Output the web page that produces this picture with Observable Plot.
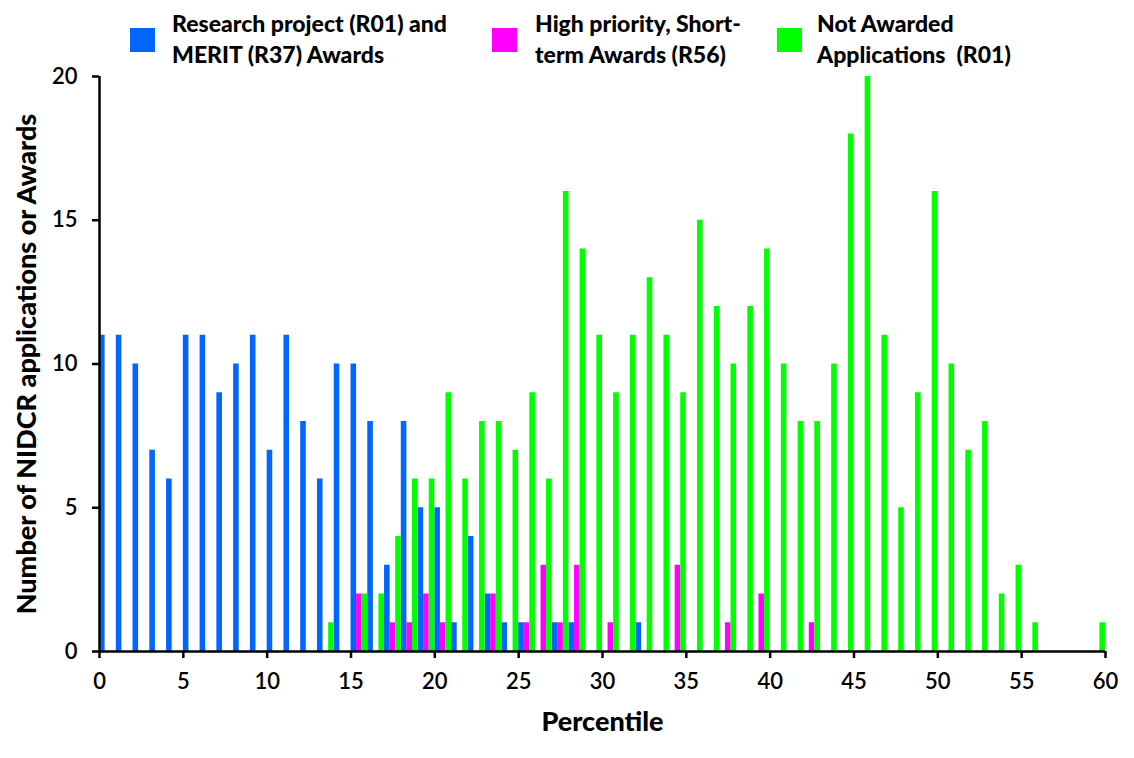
<!DOCTYPE html>
<html>
<head>
<meta charset="utf-8">
<script src="https://cdn.jsdelivr.net/npm/d3@7"></script>
<script src="https://cdn.jsdelivr.net/npm/@observablehq/plot@0.6"></script>
<style>
  html, body { margin: 0; padding: 0; background: #fff; }
  #wrap { position: relative; width: 1134px; height: 758px; font-family: Lato, "Open Sans", sans-serif; }
  .sw { position: absolute; width: 25px; height: 24px; top: 28px; }
  .lt { position: absolute; top: 8px; font-size: 23px; font-weight: 900; line-height: 31px; white-space: nowrap; color: #000; }
</style>
</head>
<body>
<div id="wrap"></div>
<script>
// Percentile categories (0..59)
const percentiles = [0,1,2,3,4,5,6,7,8,9,10,11,12,13,14,15,16,17,18,19,20,21,22,23,24,25,26,27,28,29,
  30,31,32,33,34,35,36,37,38,39,40,41,42,43,44,45,46,47,48,49,50,51,52,53,54,55,56,57,58,59];

const seriesNames = [
  "Research project (R01) and MERIT (R37) Awards",
  "High priority, Short-term Awards (R56)",
  "Not Awarded Applications (R01)"
];
const seriesColors = ["#0066ff", "#ff00ff", "#00ff00"];

// Research project (R01) and MERIT (R37) Awards
const awardsR01R37 = [
  11,11,10,7,6,11,11,9,10,11,
  7,11,8,6,10,10,8,3,8,5,
  5,1,4,2,1,1,0,1,1,0,
  0,0,1,0,0,0,0,0,0,0,
  0,0,0,0,0,0,0,0,0,0,
  0,0,0,0,0,0,0,0,0,0
];
// High priority, Short-term Awards (R56)
const awardsR56 = [
  0,0,0,0,0,0,0,0,0,0,
  0,0,0,0,0,2,0,1,1,2,
  1,0,0,2,0,1,3,1,3,0,
  1,0,0,0,3,0,0,1,0,2,
  0,0,1,0,0,0,0,0,0,0,
  0,0,0,0,0,0,0,0,0,0
];
// Not Awarded Applications (R01)
const notAwarded = [
  0,0,0,0,0,0,0,0,0,0,
  0,0,0,1,0,2,2,4,6,6,
  9,6,8,8,7,9,6,16,14,11,
  9,11,13,11,9,15,12,10,12,14,
  10,8,8,10,18,20,11,5,9,16,
  10,7,8,2,3,1,0,0,0,1
];

const xTicks = [0,5,10,15,20,25,30,35,40,45,50,55,60];
const yTicks = [0,5,10,15,20];

const series = [awardsR01R37, awardsR56, notAwarded];
const rows = [];
series.forEach((vals, k) => {
  percentiles.forEach((p, i) => {
    if (vals[i] > 0) rows.push({p, k, value: vals[i], series: seriesNames[k]});
  });
});

const chart = Plot.plot({
  width: 1134,
  height: 758,
  marginLeft: 99,
  marginRight: 29,
  marginTop: 76,
  marginBottom: 107,
  style: {fontFamily: "Lato, 'Open Sans', sans-serif", fontSize: "22px", color: "#000", background: "#fff"},
  x: {domain: [0, 60], ticks: xTicks},
  y: {domain: [0, 20], ticks: yTicks},
  color: {domain: seriesNames, range: seriesColors},
  marks: [
    Plot.rectY(rows, {
      x1: d => d.p + d.k / 3,
      x2: d => d.p + (d.k + 1) / 3,
      y1: 0,
      y2: "value",
      fill: "series",
      inset: 0
    }),
    Plot.axisX({ticks: xTicks, tickSize: 7, tickPadding: 15, strokeWidth: 2.5, label: null, fontSize: 22, fontWeight: 600}),
    Plot.axisY({ticks: yTicks, tickSize: 7, tickPadding: 15, strokeWidth: 2.5, label: null, fontSize: 22, fontWeight: 600}),
    Plot.ruleY([0], {stroke: "#000", strokeWidth: 2.5}),
    Plot.ruleX([0], {stroke: "#000", strokeWidth: 2.5}),
    Plot.text(["Percentile"], {frameAnchor: "bottom", dy: 71, lineAnchor: "middle", fontSize: 27, fontWeight: 900, fill: "#000"}),
    Plot.text(["Number of NIDCR applications or Awards"], {frameAnchor: "left", dx: -72, rotate: -90, textAnchor: "middle", lineAnchor: "middle", fontSize: 27, fontWeight: 900, fill: "#000"})
  ]
});

const wrap = document.getElementById("wrap");
wrap.appendChild(chart);

const legendItems = [
  {sw: 130, tx: 172, lines: ["Research project (R01) and", "MERIT (R37) Awards"]},
  {sw: 492, tx: 535, lines: ["High priority, Short-", "term Awards (R56)"]},
  {sw: 777, tx: 817, lines: ["Not Awarded", "Applications\u00a0 (R01)"]}
];
legendItems.forEach((it, i) => {
  const s = document.createElement("div");
  s.className = "sw";
  s.style.left = it.sw + "px";
  s.style.background = seriesColors[i];
  wrap.appendChild(s);
  const t = document.createElement("div");
  t.className = "lt";
  t.style.left = it.tx + "px";
  t.innerHTML = it.lines.join("<br>");
  wrap.appendChild(t);
});
</script>
</body>
</html>
